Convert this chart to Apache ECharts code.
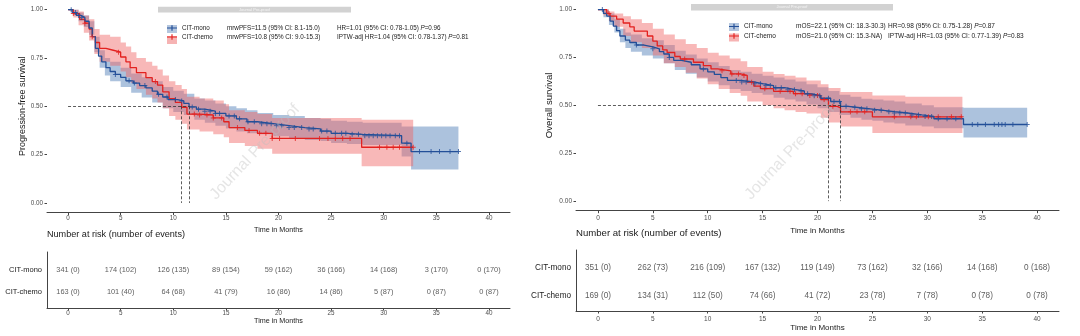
<!DOCTYPE html>
<html><head><meta charset="utf-8">
<script src="https://cdn.jsdelivr.net/npm/echarts@6/dist/echarts.min.js"></script>
<style>html,body{margin:0;padding:0;background:#fff}#c{width:1080px;height:336px}</style>
</head><body><div id="c"></div>
<script>
const FONT = '"Liberation Sans", Arial, sans-serif';
const xTicks = [0,5,10,15,20,25,30,35,40];
const yTicks = [0,0.25,0.5,0.75,1];
const groups = ['CIT-mono','CIT-chemo'];

// ---- PFS (left) ----
const pfsMonoT = [0,0.4,0.8,1.2,1.6,2.0,2.3,2.6,2.9,3.2,3.6,4.0,4.5,5.0,5.5,6.2,6.8,7.4,8.0,8.5,9.0,9.5,10.4,11.0,11.5,12.2,13.0,14.0,15.0,16.0,17.0,18.0,19.5,21.0,22.5,24.0,25.0,26.5,28.0,31.7,32.6,37.1];
const pfsMonoS = [1,0.985,0.97,0.96,0.94,0.905,0.86,0.80,0.76,0.73,0.70,0.68,0.665,0.65,0.632,0.62,0.607,0.595,0.578,0.562,0.548,0.535,0.528,0.515,0.497,0.485,0.475,0.463,0.45,0.435,0.42,0.41,0.40,0.39,0.383,0.372,0.36,0.355,0.348,0.309,0.266,0.266];
const pfsChemoT = [0,0.5,1.1,1.6,2.0,2.3,2.6,3.0,3.6,4.3,5.0,5.5,5.9,6.5,7.4,8.0,8.5,9.0,9.6,10.2,10.8,11.3,12.5,13.8,14.8,15.3,16.8,18.0,19.4,27.9,32.8];
const pfsChemoS = [1,0.98,0.95,0.93,0.90,0.86,0.83,0.80,0.79,0.78,0.755,0.73,0.70,0.674,0.648,0.628,0.61,0.575,0.54,0.52,0.495,0.46,0.455,0.44,0.42,0.39,0.375,0.36,0.334,0.288,0.288];
const pfsMonoBandT = [0,0.5,1,1.5,2,2.5,3,3.5,4,5,6,7,8,9,10,11,12,13,14,15,16,17,18,19.5,21,22.5,24,25,26.5,28,31.7,32.6,37.1];
const pfsMonoLo = [1,0.97,0.94,0.91,0.87,0.78,0.70,0.66,0.63,0.60,0.57,0.545,0.52,0.49,0.47,0.455,0.43,0.415,0.40,0.385,0.37,0.36,0.355,0.345,0.335,0.325,0.32,0.31,0.305,0.30,0.24,0.173,0.173];
const pfsMonoHi = [1,1.0,0.985,0.97,0.94,0.86,0.79,0.75,0.73,0.70,0.67,0.65,0.63,0.60,0.58,0.565,0.54,0.53,0.515,0.50,0.49,0.48,0.465,0.455,0.45,0.44,0.435,0.425,0.42,0.415,0.395,0.395,0.395];
const pfsChemoBandT = [0,0.5,1,1.5,2,2.5,3,4,5,5.5,6,6.5,7.4,8,8.5,9,9.6,10.2,10.8,11.3,12.5,13.8,14.8,15.3,16.8,18,19.4,27.9,32.8];
const pfsChemoLo = [1,0.96,0.92,0.88,0.84,0.77,0.73,0.71,0.68,0.65,0.62,0.59,0.56,0.54,0.52,0.49,0.45,0.43,0.41,0.38,0.37,0.355,0.34,0.31,0.295,0.28,0.255,0.19,0.19];
const pfsChemoHi = [1,1.0,0.99,0.97,0.95,0.90,0.87,0.86,0.83,0.81,0.78,0.75,0.73,0.71,0.69,0.66,0.63,0.61,0.59,0.55,0.54,0.53,0.51,0.48,0.47,0.46,0.44,0.43,0.43];
const pfsMonoCens = [0.3,0.7,1.0,1.3,4.5,5.8,6.3,7.3,8.6,9.4,10.2,10.8,11.8,12.4,13.0,13.5,14.0,14.4,15.3,15.8,16.3,17.1,17.7,18.4,18.9,19.3,19.8,20.3,21.0,21.5,22.2,22.9,23.3,24.1,24.6,25.4,26.0,26.4,27.0,27.6,28.2,28.6,29.0,29.4,29.8,30.2,30.6,31.1,31.5,32.2,33.4,34.5,35.3,36.3,37.1];
const pfsChemoCens = [0.5,1.6,2.3,4.8,8.3,12.0,12.5,13.2,13.8,14.6,16.1,17.2,18.2,18.8,19.4,20.1,21.6,23.9,24.7,25.4,26.1,26.8,29.6,30.3,30.9,31.5,32.8];
const pfsMedians = [11.5, 10.8];
const pfsStats = ['mrwPFS=11.5 (95% CI: 8.1-15.0)','mrwPFS=10.8 (95% CI: 9.0-15.3)'];
const pfsHR = ['HR=1.01 (95% CI: 0.78-1.05) ','IPTW-adj HR=1.04 (95% CI: 0.78-1.37) '];
const pfsP = ['=0.96','=0.81'];
const pfsRiskMono = [341,174,126,89,59,36,14,3,0];
const pfsEventsMono = [0,102,135,154,162,166,168,170,170];
const pfsRiskChemo = [163,101,64,41,16,14,5,0,0];
const pfsEventsChemo = [0,40,68,79,86,86,87,87,87];

// ---- OS (right) ----
const osMonoT = [0,0.5,0.8,1.1,1.4,1.7,2.0,2.5,2.9,3.5,4.2,5.0,5.6,6.0,6.5,6.9,7.6,8.5,9.3,10.0,10.6,11.2,11.8,13.0,14.2,15.0,16.0,17.0,18.0,18.8,19.5,20.3,21.2,22.1,22.8,23.5,24.8,26.0,27.0,28.2,29.5,30.6,33.3,39.1];
const osMonoS = [1,0.98,0.966,0.94,0.914,0.89,0.862,0.84,0.828,0.815,0.805,0.795,0.78,0.768,0.75,0.735,0.725,0.712,0.69,0.675,0.662,0.645,0.63,0.622,0.613,0.603,0.592,0.582,0.575,0.56,0.55,0.537,0.52,0.495,0.49,0.482,0.474,0.467,0.46,0.45,0.442,0.43,0.40,0.40];
const osChemoT = [0,0.8,1.1,1.7,2.3,2.9,3.3,4.5,5.0,5.4,5.9,6.3,7.0,7.5,8.7,9.6,10.3,10.9,12.1,13.0,13.6,14.2,14.8,16.0,17.8,19.0,20.3,21.0,21.8,22.1,25.0,33.2];
const osChemoS = [1,0.98,0.966,0.95,0.93,0.91,0.888,0.862,0.835,0.81,0.79,0.776,0.755,0.742,0.725,0.707,0.69,0.68,0.664,0.656,0.621,0.60,0.587,0.573,0.561,0.552,0.53,0.495,0.487,0.466,0.44,0.44];
const osMonoBandT = [0,0.5,1,1.5,2,2.5,3,4,5,6,7,8,9,10,11,12,13,14,15,16,17,18,19,20,21,22,23,24,25,26,27,28,29.5,30.6,33.3,39.1];
const osMonoLo = [1,0.96,0.92,0.88,0.83,0.80,0.78,0.76,0.745,0.72,0.685,0.665,0.645,0.625,0.605,0.585,0.575,0.565,0.555,0.54,0.53,0.52,0.505,0.485,0.465,0.45,0.435,0.425,0.42,0.41,0.405,0.395,0.39,0.38,0.332,0.332];
const osMonoHi = [1,1,0.98,0.95,0.90,0.88,0.87,0.85,0.84,0.815,0.785,0.765,0.745,0.725,0.705,0.685,0.675,0.665,0.655,0.645,0.635,0.625,0.61,0.595,0.575,0.555,0.545,0.535,0.53,0.525,0.52,0.51,0.50,0.49,0.487,0.487];
const osChemoBandT = [0,0.5,1,1.5,2.3,3,4,5,6,7,8,9,10,11,12,13,13.6,15,16,17,18,19,20.3,21,22.1,25,28,33.2];
const osChemoLo = [1,0.97,0.94,0.91,0.862,0.83,0.80,0.76,0.72,0.70,0.67,0.64,0.61,0.585,0.565,0.55,0.52,0.50,0.485,0.475,0.465,0.458,0.435,0.41,0.39,0.355,0.355,0.355];
const osChemoHi = [1,1,0.99,0.98,0.965,0.95,0.93,0.90,0.87,0.845,0.82,0.80,0.775,0.76,0.745,0.73,0.70,0.675,0.664,0.655,0.645,0.63,0.61,0.59,0.57,0.552,0.545,0.545];
const osMonoCens = [0.4,3.5,5.0,6.5,9.6,12.6,13.1,13.5,14.3,14.8,15.3,15.7,16.2,16.7,17.3,17.9,18.5,19.1,19.7,20.2,21.0,21.5,22.0,22.6,23.4,24.0,24.5,25.2,25.8,26.5,27.0,27.5,28.0,28.6,29.2,29.8,30.4,31.0,31.8,32.6,34.1,34.6,35.3,36.1,36.5,36.8,37.1,37.8,39.1];
const osChemoCens = [1.0,7.9,11.3,12.2,12.8,13.3,14.0,15.2,16.6,17.5,18.0,18.6,19.3,20.0,20.6,21.4,23.0,23.6,24.3,27.0,28.5,29.0,30.1,31.0,32.2,33.1];
const osMedians = [22.1, 21.0];
const osStats = ['mOS=22.1 (95% CI: 18.3-30.3)','mOS=21.0 (95% CI: 15.3-NA)'];
const osHR = ['HR=0.98 (95% CI: 0.75-1.28) ','IPTW-adj HR=1.03 (95% CI: 0.77-1.39) '];
const osP = ['=0.87','=0.83'];
const osRiskMono = [351,262,216,167,119,73,32,14,0];
const osEventsMono = [0,73,109,132,149,162,166,168,168];
const osRiskChemo = [169,134,112,74,41,23,7,0,0];
const osEventsChemo = [0,31,50,66,72,78,78,78,78];

// ---- styling ----
const BLUE = '#234f98', RED = '#e3211f';
const BLUE_BAND = 'rgba(70,120,180,0.45)', RED_BAND = 'rgba(240,100,100,0.46)';
const BLUE_KEY = '#b4c6de', RED_KEY = '#f6b3b3';
const PLUS = 'path://M0,4h10v2h-10z M4,0h2v10h-2z';
const KEY = 'path://M0,3.3h12v1.4h-12z M5.3,0.6h1.4v6.8h-1.4z';

function stepAt(T, S, t){ let v = S[0]; for (let i=0;i<T.length;i++){ if (T[i] <= t) v = S[i]; else break; } return v; }

function band(ax, T, lo, hi, color){
  return { type:'custom', xAxisIndex:ax, yAxisIndex:ax, silent:true, z:1,
    data:[[T[0], lo[0]]],
    renderItem(params, api){
      const pts = [];
      for (let i=0;i<T.length;i++){ const x1 = i<T.length-1 ? T[i+1] : T[i]; pts.push(api.coord([T[i],hi[i]]), api.coord([x1,hi[i]])); }
      for (let i=T.length-1;i>=0;i--){ const x1 = i<T.length-1 ? T[i+1] : T[i]; pts.push(api.coord([x1,lo[i]]), api.coord([T[i],lo[i]])); }
      return { type:'polygon', shape:{points:pts}, style:{fill:color} };
    } };
}
function kmLine(ax, name, T, S, color, extra){
  return Object.assign({ type:'line', name, xAxisIndex:ax, yAxisIndex:ax, step:'end', symbol:'none', z:3,
    lineStyle:{color, width:1.3}, itemStyle:{color}, data:T.map((t,i)=>[t,S[i]]), silent:true }, extra||{});
}
function censor(ax, T, S, cens, color){
  return { type:'scatter', xAxisIndex:ax, yAxisIndex:ax, symbol:PLUS, symbolSize:5, z:4, silent:true,
    itemStyle:{color}, data:cens.map(t=>[t, stepAt(T,S,t)]) };
}
function medianLines(meds){
  const m = Math.max(...meds);
  return { silent:true, symbol:'none', label:{show:false}, lineStyle:{type:[3,2], color:'#333', width:0.8},
    data:[[{coord:[0,0.5]},{coord:[m,0.5]}]].concat(meds.map(v=>[{coord:[v,0.5]},{coord:[v,0]}])) };
}
function riskText(ax, row, n, e, fs){
  return { type:'scatter', xAxisIndex:ax, yAxisIndex:ax, symbolSize:0, silent:true,
    label:{show:true, position:'inside', fontSize:fs, color:'#333', fontFamily:FONT, formatter:p=>p.data[2]},
    data:xTicks.map((t,i)=>[t, row, n[i]+' ('+e[i]+')']) };
}
function legendCfg(left, top, fs, w1, w2, stats, hr, pv, gap){
  const base = {fontSize:fs, fontFamily:FONT, color:'#1a1a1a'};
  return { left, top, padding:0, orient:'vertical', itemWidth:10, itemHeight:8, itemGap:gap, selectedMode:false,
    data:[{name:groups[0], icon:KEY, itemStyle:{color:BLUE}}, {name:groups[1], icon:KEY, itemStyle:{color:RED}}],
    formatter:name=>{ const i = groups.indexOf(name); return '{n|'+name+'}{s|'+stats[i]+'}{h|'+hr[i]+'}{p|P}{h|'+pv[i]+'}'; },
    textStyle:Object.assign({}, base, {rich:{ n:Object.assign({width:w1},base), s:Object.assign({width:w2},base), h:Object.assign({},base), p:Object.assign({fontStyle:'italic'},base) }}) };
}
function plotX(grid, fs, nameFs, gap, margin){
  return { gridIndex:grid, type:'value', min:-2, max:42, name:'Time in Months', nameLocation:'middle', nameGap:gap,
    nameTextStyle:{fontSize:nameFs, color:'#1a1a1a', fontFamily:FONT},
    axisLine:{show:true, onZero:false, lineStyle:{color:'#444', width:1}},
    axisTick:{show:true, length:2.5, customValues:xTicks, lineStyle:{color:'#444'}},
    axisLabel:{customValues:xTicks, margin, fontSize:fs, color:'#4d4d4d', fontFamily:FONT}, splitLine:{show:false} };
}
function plotY(grid, name, fs, nameFs, gap){
  return { gridIndex:grid, type:'value', min:-0.05, max:1.05, name, nameLocation:'middle', nameGap:gap, nameRotate:90,
    nameTextStyle:{fontSize:nameFs, color:'#1a1a1a', fontFamily:FONT},
    axisLine:{show:false, onZero:false}, axisTick:{show:true, length:2.5, customValues:yTicks, lineStyle:{color:'#444'}},
    axisLabel:{customValues:yTicks, formatter:v=>v.toFixed(2), margin:4, fontSize:fs, color:'#4d4d4d', fontFamily:FONT}, splitLine:{show:false} };
}
function tableY(grid, min, max, fs){
  return { gridIndex:grid, type:'value', min, max, axisLine:{show:true, onZero:false, lineStyle:{color:'#444', width:1}},
    axisTick:{show:false}, splitLine:{show:false},
    axisLabel:{customValues:[0,1], formatter:v=>v>0.5?groups[0]:groups[1], margin:5, fontSize:fs, color:'#1a1a1a', fontFamily:FONT} };
}

const option = {
  animation:false,
  grid:[
    {left:47, top:-1.4, width:463, height:214},
    {left:576, top:-3, width:483, height:213.7},
    {left:47, top:252, width:463, height:56},
    {left:576, top:250, width:483, height:61}
  ],
  xAxis:[ plotX(0,6.3,7.2,10.5,3), plotX(1,6.5,8,9,4.5), plotX(2,6.3,7.2,8,2.5), plotX(3,6.5,8,11.5,4.5) ],
  yAxis:[ plotY(0,'Progression-free survival',6.3,9,20), plotY(1,'Overall survival',6.5,9.6,21.5),
          tableY(2,-0.727,1.818,7.5), tableY(3,-0.516,1.614,8.2) ],
  title:[
    {text:'Number at risk (number of events)', left:47, top:230, padding:0, textStyle:{fontSize:9.1, fontWeight:'normal', color:'#1a1a1a', fontFamily:FONT}},
    {text:'Number at risk (number of events)', left:576, top:228, padding:0, textStyle:{fontSize:9.6, fontWeight:'normal', color:'#1a1a1a', fontFamily:FONT}}
  ],
  legend:[ legendCfg(167, 25, 6.3, 45, 110, pfsStats, pfsHR, pfsP, 3), legendCfg(729, 23, 6.5, 52, 92, osStats, osHR, osP, 2.5) ],
  graphic:[
    {type:'rect', left:167, top:25, shape:{width:10, height:8}, style:{fill:BLUE_KEY}, z:0},
    {type:'rect', left:167, top:36, shape:{width:10, height:8}, style:{fill:RED_KEY}, z:0},
    {type:'rect', left:729, top:23, shape:{width:10, height:8}, style:{fill:BLUE_KEY}, z:0},
    {type:'rect', left:729, top:33.5, shape:{width:10, height:8}, style:{fill:RED_KEY}, z:0},
    {type:'rect', left:158, top:6.8, shape:{width:193, height:5.8}, style:{fill:'#d2d2d2'}, z:0},
    {type:'text', x:254.5, y:9.8, style:{text:'Journal Pre-proof', fill:'#f4f4f4', fontSize:4, fontFamily:FONT, align:'center', verticalAlign:'middle'}, z:1},
    {type:'rect', left:691, top:4, shape:{width:202, height:6.6}, style:{fill:'#d2d2d2'}, z:0},
    {type:'text', x:792, y:7.3, style:{text:'Journal Pre-proof', fill:'#f4f4f4', fontSize:4, fontFamily:FONT, align:'center', verticalAlign:'middle'}, z:1},
    {type:'text', x:255, y:152, rotation:47*Math.PI/180, style:{text:'Journal Pre-proof', fill:'rgba(190,190,190,0.4)', fontSize:16, fontFamily:FONT, align:'center', verticalAlign:'middle'}, z:100},
    {type:'text', x:790, y:152, rotation:47*Math.PI/180, style:{text:'Journal Pre-proof', fill:'rgba(190,190,190,0.4)', fontSize:16, fontFamily:FONT, align:'center', verticalAlign:'middle'}, z:100}
  ],
  series:[
    band(0, pfsMonoBandT, pfsMonoLo, pfsMonoHi, BLUE_BAND),
    band(0, pfsChemoBandT, pfsChemoLo, pfsChemoHi, RED_BAND),
    kmLine(0, groups[1], pfsChemoT, pfsChemoS, RED),
    kmLine(0, groups[0], pfsMonoT, pfsMonoS, BLUE, {markLine:medianLines(pfsMedians)}),
    censor(0, pfsChemoT, pfsChemoS, pfsChemoCens, RED),
    censor(0, pfsMonoT, pfsMonoS, pfsMonoCens, BLUE),
    band(1, osMonoBandT, osMonoLo, osMonoHi, BLUE_BAND),
    band(1, osChemoBandT, osChemoLo, osChemoHi, RED_BAND),
    kmLine(1, groups[1], osChemoT, osChemoS, RED),
    kmLine(1, groups[0], osMonoT, osMonoS, BLUE, {markLine:medianLines(osMedians)}),
    censor(1, osChemoT, osChemoS, osChemoCens, RED),
    censor(1, osMonoT, osMonoS, osMonoCens, BLUE),
    riskText(2, 1, pfsRiskMono, pfsEventsMono, 7.4),
    riskText(2, 0, pfsRiskChemo, pfsEventsChemo, 7.4),
    riskText(3, 1, osRiskMono, osEventsMono, 8.2),
    riskText(3, 0, osRiskChemo, osEventsChemo, 8.2)
  ]
};
const chart = echarts.init(document.getElementById('c'), null, {renderer:'canvas'});
chart.setOption(option);
</script>
</body></html>
